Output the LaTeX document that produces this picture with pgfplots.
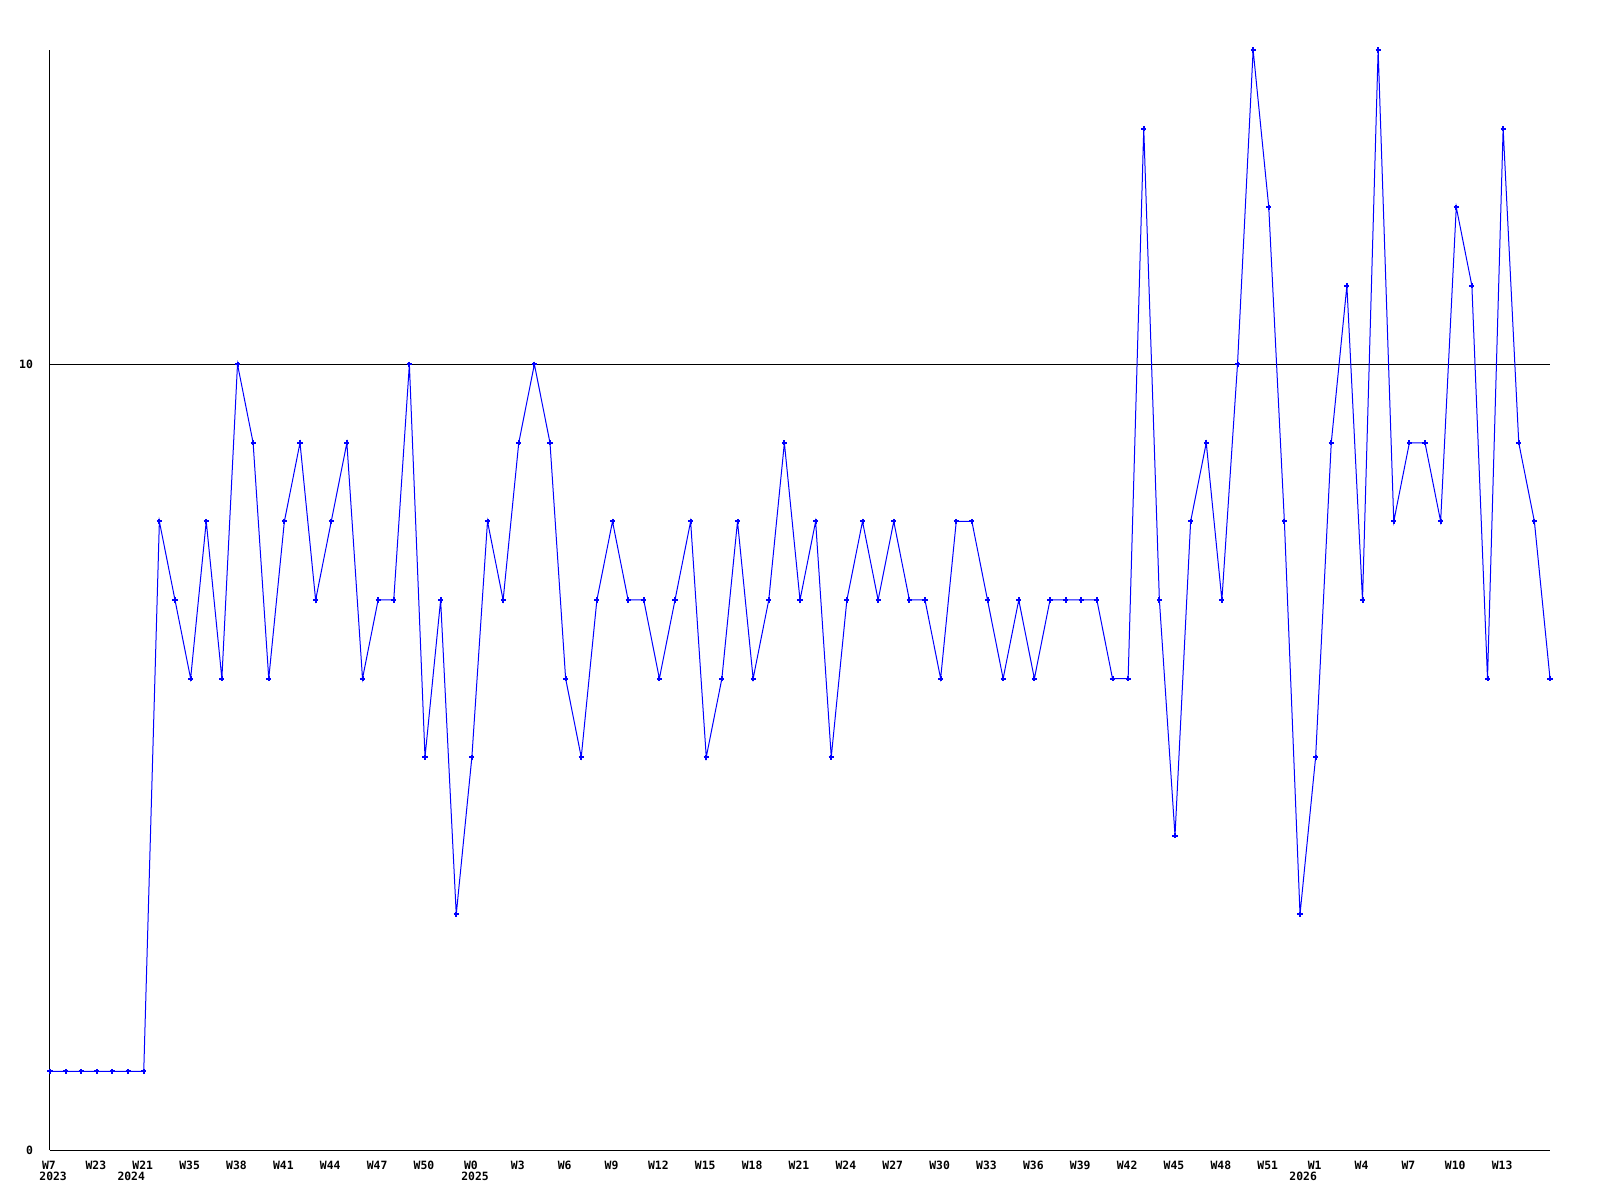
\documentclass[border=0pt]{standalone}
\usepackage{pgfplots}
\pgfplotsset{compat=1.18}
\usepackage{fontspec}
\setmonofont{DejaVu Sans Mono}
\begin{document}
\begin{tikzpicture}
\begin{axis}[
  scale only axis, width=750pt, height=550pt,
  xmin=0, xmax=96, ymin=0, ymax=14,
  axis x line*=bottom, axis y line*=left,
  axis line style={black, line width=0.5pt, -},
  clip=false,
  ytick={0,10}, yticklabels={0,10},
  ymajorgrids, grid style={black, line width=0.5pt},
  major tick length=0pt,
  xtick={0,3,...,93},
  xticklabels={W7,W23,W21,W35,W38,W41,W44,W47,W50,W0,W3,W6,W9,W12,W15,W18,W21,W24,W27,W30,W33,W36,W39,W42,W45,W48,W51,W1,W4,W7,W10,W13},
  ticklabel style={font=\ttfamily\bfseries\fontsize{5.7}{6}\selectfont},
  /pgf/number format/assume math mode=true,
  xticklabel style={anchor=north, yshift=-2pt, xshift=-0.5pt},
  yticklabel style={anchor=east, xshift=-5pt},
]
\addplot[color={rgb,255:red,0;green,0;blue,255}, line width=0.5pt, mark=+, mark size=1.3pt, mark options={line width=1pt}] coordinates {
(0,1)(1,1)(2,1)(3,1)(4,1)(5,1)(6,1)(7,8)(8,7)(9,6)(10,8)(11,6)(12,10)(13,9)(14,6)(15,8)(16,9)(17,7)(18,8)(19,9)(20,6)(21,7)(22,7)(23,10)(24,5)(25,7)(26,3)(27,5)(28,8)(29,7)(30,9)(31,10)(32,9)(33,6)(34,5)(35,7)(36,8)(37,7)(38,7)(39,6)(40,7)(41,8)(42,5)(43,6)(44,8)(45,6)(46,7)(47,9)(48,7)(49,8)(50,5)(51,7)(52,8)(53,7)(54,8)(55,7)(56,7)(57,6)(58,8)(59,8)(60,7)(61,6)(62,7)(63,6)(64,7)(65,7)(66,7)(67,7)(68,6)(69,6)(70,13)(71,7)(72,4)(73,8)(74,9)(75,7)(76,10)(77,14)(78,12)(79,8)(80,3)(81,5)(82,9)(83,11)(84,7)(85,14)(86,8)(87,9)(88,9)(89,8)(90,12)(91,11)(92,6)(93,13)(94,9)(95,8)(96,6)
};
\node[anchor=north, font=\ttfamily\bfseries\fontsize{5.7}{6}\selectfont, inner sep=0pt] at (axis cs:0.2,0) [yshift=-11pt] {2023};
\node[anchor=north, font=\ttfamily\bfseries\fontsize{5.7}{6}\selectfont, inner sep=0pt] at (axis cs:5.2,0) [yshift=-11pt] {2024};
\node[anchor=north, font=\ttfamily\bfseries\fontsize{5.7}{6}\selectfont, inner sep=0pt] at (axis cs:27.2,0) [yshift=-11pt] {2025};
\node[anchor=north, font=\ttfamily\bfseries\fontsize{5.7}{6}\selectfont, inner sep=0pt] at (axis cs:80.2,0) [yshift=-11pt] {2026};
\end{axis}
\pgfresetboundingbox
\path[use as bounding box] ([shift={(-25pt,-25pt)}]current axis.south west) rectangle ([shift={(25pt,25pt)}]current axis.north east);
\end{tikzpicture}
\end{document}
